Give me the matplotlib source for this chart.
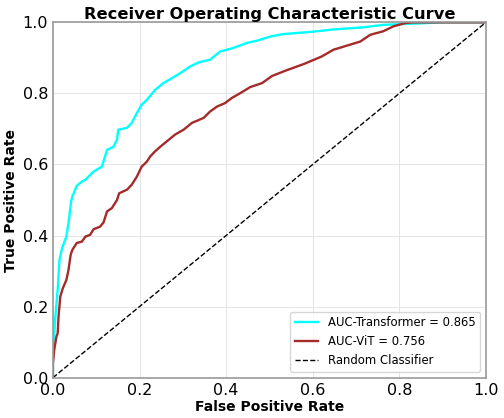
import matplotlib
matplotlib.use("Agg")
import matplotlib.pyplot as plt

# Transformer ROC
fpr_tr = [0.0, 0.0, 0.003, 0.005, 0.011, 0.015, 0.021, 0.031, 0.036, 0.042, 0.045, 0.055,
          0.067, 0.075, 0.094, 0.113, 0.125, 0.14, 0.148, 0.151, 0.171, 0.182, 0.194,
          0.205, 0.217, 0.236, 0.255, 0.275, 0.294, 0.317, 0.336, 0.363, 0.386, 0.417,
          0.448, 0.47, 0.502, 0.532, 0.594, 0.648, 0.717, 0.763, 0.864, 0.9, 1.0]
tpr_tr = [0.0, 0.087, 0.115, 0.163, 0.247, 0.33, 0.364, 0.397, 0.435, 0.496, 0.51, 0.54,
          0.552, 0.557, 0.58, 0.594, 0.641, 0.65, 0.67, 0.698, 0.703, 0.717, 0.745,
          0.768, 0.782, 0.81, 0.829, 0.843, 0.857, 0.876, 0.887, 0.895, 0.918, 0.928,
          0.942, 0.948, 0.96, 0.967, 0.973, 0.98, 0.986, 0.993, 0.998, 1.0, 1.0]

# ViT ROC
fpr_vit = [0.0, 0.0, 0.003, 0.008, 0.011, 0.013, 0.017, 0.023, 0.031, 0.036, 0.041, 0.045,
           0.055, 0.067, 0.075, 0.086, 0.094, 0.109, 0.117, 0.125, 0.136, 0.148, 0.153,
           0.171, 0.182, 0.194, 0.205, 0.217, 0.225, 0.236, 0.248, 0.263, 0.282, 0.302,
           0.321, 0.348, 0.363, 0.379, 0.398, 0.413, 0.433, 0.456, 0.483, 0.506, 0.537,
           0.58, 0.621, 0.648, 0.71, 0.733, 0.763, 0.787, 0.814, 0.83, 1.0]
tpr_vit = [0.0, 0.04, 0.078, 0.115, 0.125, 0.172, 0.228, 0.252, 0.275, 0.303, 0.346, 0.36,
           0.379, 0.383, 0.397, 0.402, 0.418, 0.425, 0.437, 0.468, 0.477, 0.5, 0.519,
           0.529, 0.543, 0.566, 0.594, 0.608, 0.623, 0.637, 0.65, 0.665, 0.684, 0.698,
           0.717, 0.731, 0.749, 0.763, 0.773, 0.787, 0.801, 0.818, 0.829, 0.849, 0.864,
           0.883, 0.904, 0.923, 0.946, 0.965, 0.975, 0.989, 0.998, 1.0, 1.0]

auc_tr = 0.865
auc_vit = 0.756

fig = plt.figure(figsize=(5.04, 4.18), dpi=100)
ax = fig.add_axes([0.105, 0.0965, 0.859, 0.85])

ax.plot(fpr_tr, tpr_tr, color="#00ffff", lw=1.7, label=f"AUC-Transformer = {auc_tr:.3f}")
ax.plot(fpr_vit, tpr_vit, color="#a52a2a", lw=1.7, label=f"AUC-ViT = {auc_vit:.3f}")
ax.plot([0, 1], [0, 1], color="black", lw=1.0, ls="--", label="Random Classifier")

ax.set_xlim(0, 1)
ax.set_ylim(0, 1)
ax.set_xticks([0, 0.2, 0.4, 0.6, 0.8, 1.0])
ax.set_yticks([0, 0.2, 0.4, 0.6, 0.8, 1.0])
ax.tick_params(labelsize=11.5, length=0, pad=3.5)
ax.grid(True, color="#e4e4e4", lw=0.7)
ax.set_axisbelow(True)
for s in ax.spines.values():
    s.set_color("#9a9a9a")
    s.set_linewidth(1.2)

ax.set_xlabel("False Positive Rate", fontsize=10, fontweight="bold", labelpad=2)
ax.set_ylabel("True Positive Rate", fontsize=10, fontweight="bold", labelpad=3)
ax.set_title("Receiver Operating Characteristic Curve", fontsize=11.7, fontweight="bold", pad=2)
ax.legend(loc="lower right", fontsize=8.4)

fig.savefig("out.png", dpi=100)
